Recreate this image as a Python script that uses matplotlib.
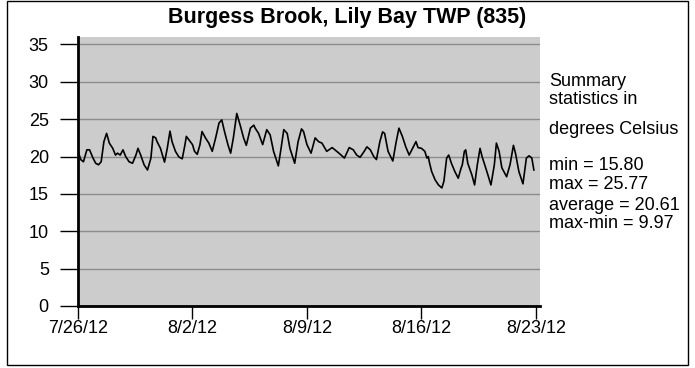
import pandas as pd
import matplotlib
matplotlib.use("Agg")
import matplotlib.pyplot as plt
import matplotlib.patches as mpatches

plt.rcParams['font.family'] = ['Liberation Sans', 'DejaVu Sans']

# ── Data (hours since 7/26/12 00:00, deg C) ─────────────────────────────────
hours = [1, 4, 8, 13, 17, 22, 26, 30, 34, 38, 42, 46, 51, 55, 58, 62, 66, 70,
         75, 80, 85, 88, 92, 97, 102, 107, 110, 114, 116, 121, 127, 131, 135,
         138, 143, 148, 153, 157, 159, 163, 168, 171, 175, 179, 182, 187, 192,
         197, 202, 207, 211, 215, 220, 224, 228, 233, 238, 243, 247, 253, 258,
         260, 265, 271, 277, 282, 287, 294, 298, 302, 307, 311, 318, 323, 328,
         331, 336, 342, 348, 353, 358, 365, 373, 377, 383, 391, 398, 404, 409,
         414, 420, 424, 429, 434, 438, 443, 447, 450, 455, 462, 467, 471, 476,
         481, 486, 491, 496, 499, 504, 509, 512, 514, 516, 519, 524, 529, 534,
         537, 541, 544, 548, 553, 558, 562, 564, 567, 569, 572, 578, 582, 586,
         590, 593, 600, 606, 611, 614, 618, 622, 629, 634, 639, 642, 647, 653,
         658, 662, 666, 669]
temps = [20.45, 19.6, 19.3, 20.9, 20.9, 19.8, 19.1, 18.9, 19.3, 22.0, 23.1,
         21.8, 21.1, 20.2, 20.45, 20.2, 20.9, 20.0, 19.3, 19.1, 20.2, 21.1,
         20.2, 18.9, 18.2, 19.8, 22.7, 22.5, 22.0, 21.1, 19.25, 21.1, 23.4,
         22.0, 20.7, 19.95, 19.7, 21.6, 22.7, 22.2, 21.6, 20.7, 20.3, 21.6,
         23.35, 22.5, 21.8, 20.7, 22.5, 24.5, 24.9, 23.35, 21.6, 20.45, 22.5,
         25.77, 24.2, 22.5, 21.5, 23.8, 24.2, 23.8, 23.1, 21.6, 23.6, 22.9,
         20.7, 18.75, 21.1, 23.6, 23.1, 21.1, 19.1, 22.0, 23.7, 23.35, 21.6,
         20.45, 22.5, 22.0, 21.8, 20.7, 21.2, 20.9, 20.45, 19.8, 21.2, 20.9,
         20.2, 19.9, 20.7, 21.3, 20.9, 20.0, 19.6, 22.0, 23.3, 23.1, 20.7,
         19.4, 22.0, 23.8, 22.7, 21.3, 20.2, 21.1, 22.0, 21.2, 21.1, 20.7,
         19.8, 20.0, 19.1, 18.0, 16.9, 16.2, 15.8, 16.7, 19.8, 20.2, 19.1,
         18.0, 17.1, 18.4, 18.9, 20.7, 20.9, 19.1, 17.55, 16.2, 18.9, 21.1,
         20.0, 18.0, 16.2, 18.9, 21.8, 20.7, 18.5, 17.3, 18.9, 21.5, 20.45,
         18.0, 16.35, 19.8, 20.1, 19.8, 18.2]

start = pd.Timestamp("2012-07-26")
tick_dates = pd.to_datetime(["2012-07-26", "2012-08-02", "2012-08-09",
                             "2012-08-16", "2012-08-23"])
y_ticks = [0, 5, 10, 15, 20, 25, 30, 35]

title = "Burgess Brook, Lily Bay TWP (835)"
stats_lines = ["Summary", "statistics in", "degrees Celsius",
               "min = 15.80", "max = 25.77", "average = 20.61", "max-min = 9.97"]

times = start + pd.to_timedelta(hours, unit="h")

# ── Figure ──────────────────────────────────────────────────────────────────
W, H = 695, 368
fig = plt.figure(figsize=(W / 100, H / 100), dpi=100)
fig.patch.set_facecolor("white")

# plot area in pixels: x 78..540, y 37..306
ax = fig.add_axes([78 / W, 1 - 306 / H, (540 - 78) / W, (306 - 37) / H])
ax.set_facecolor("#cccccc")

ax.plot(times, temps, color="black", lw=1.2)

ax.set_ylim(0, 36)
ax.set_yticks(y_ticks)
ax.set_xlim(start, start + pd.Timedelta(hours=678))
ax.set_xticks(tick_dates)
ax.set_xticklabels([f"{d.month}/{d.day}/{d.strftime('%y')}" for d in tick_dates])

ax.grid(axis="y", color="#8c8c8c", lw=1)
ax.set_axisbelow(True)
for s in ["top", "right"]:
    ax.spines[s].set_visible(False)
for s in ["left", "bottom"]:
    ax.spines[s].set_linewidth(2)
    ax.spines[s].set_color("black")

ax.tick_params(axis="both", direction="out", width=1, color="black",
               labelsize=13)
ax.tick_params(axis="y", length=13, pad=8)
ax.tick_params(axis="x", length=9, pad=1)

# title
fig.text(0.5, 1 - 23 / H, title, ha="center", va="baseline",
         fontsize=15.5, fontweight="bold")

# summary text on the right
baselines = [86, 104, 134, 170, 189, 210, 228]
for txt, yb in zip(stats_lines, baselines):
    fig.text(549 / W, 1 - yb / H, txt, ha="left", va="baseline", fontsize=13)

# outer border
fig.patches.append(mpatches.Rectangle((7 / W, 1 - 365 / H), (688 - 7) / W,
                                      (365 - 1) / H, transform=fig.transFigure,
                                      fill=False, ec="black", lw=1))

fig.savefig("out.png", dpi=100)
